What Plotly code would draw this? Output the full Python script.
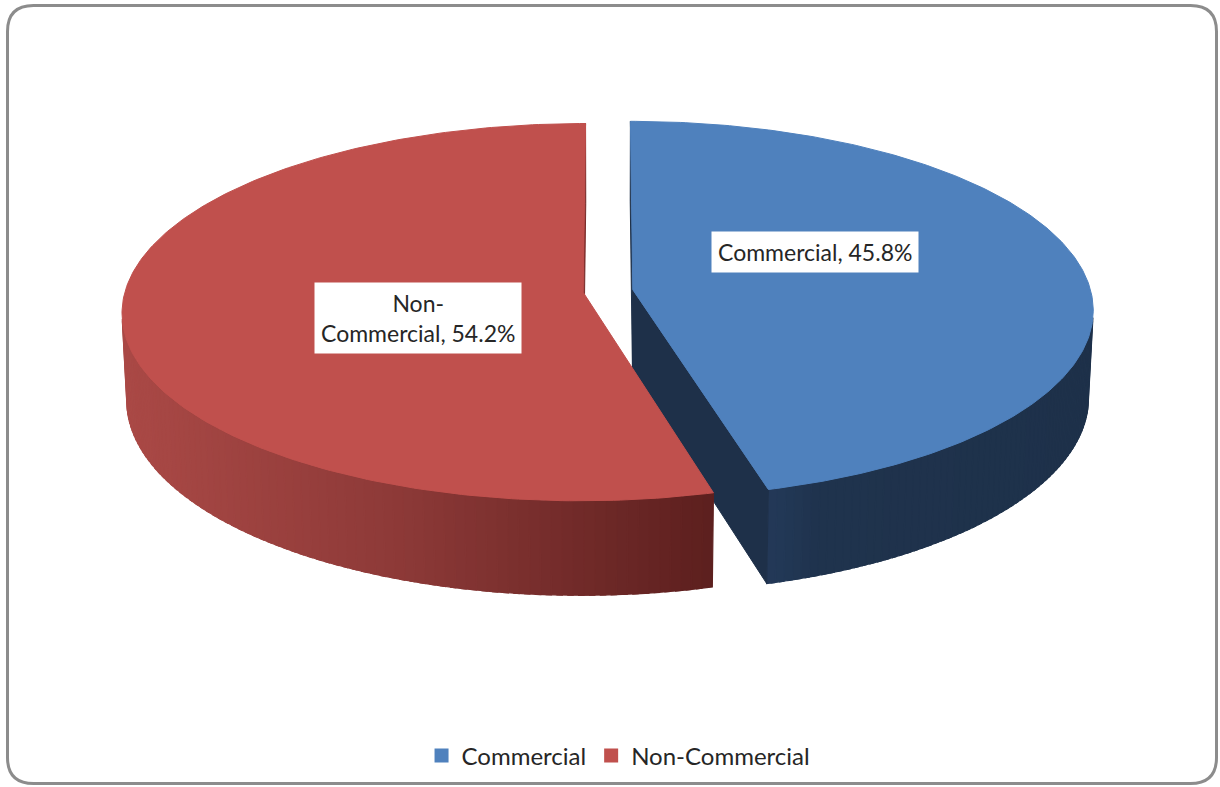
import numpy as np
import plotly.graph_objects as go

# ---- data ----
categories = ["Commercial", "Non-Commercial"]
shares = [45.8, 54.2]
top_colors = ["#4F81BD", "#C0504D"]
edge_colors = ["#1E3049", "#7A2C2A"]
# wall shading stops: (fraction across the visible wall, rgb)
wall_stops = [
    [(0.0, (35, 57, 88)), (0.15, (31, 51, 77)), (1.0, (30, 49, 74))],
    [(0.0, (170, 73, 70)), (0.45, (142, 58, 56)), (1.0, (92, 31, 30))],
]
label_pos = [(815, 252), (418, 318)]

# ---- canvas / projection setup ----
W, H = 1220, 787
CX, CY = 608, 291
SCALE = 458.0           # px per unit radius at the centre depth
DIST = 8.7              # camera distance (radius units)
ELEV = np.radians(24.0)
THICK = 0.209
EXPLODE = 0.0546
CAM = np.array([0.0, -DIST * np.cos(ELEV), DIST * np.sin(ELEV)])


def project(X, Y, Z):
    X, Y, Z = np.asarray(X, float), np.asarray(Y, float), np.asarray(Z, float)
    yc = Y * np.sin(ELEV) + Z * np.cos(ELEV)
    d = DIST + Y * np.cos(ELEV) - Z * np.sin(ELEV)
    k = SCALE * DIST / d
    return CX + k * X, CY - k * yc


def interp_color(stops, t):
    t = min(max(t, 0.0), 1.0)
    for (t0, c0), (t1, c1) in zip(stops[:-1], stops[1:]):
        if t <= t1:
            f = 0 if t1 == t0 else (t - t0) / (t1 - t0)
            c = [round(a + (b - a) * f) for a, b in zip(c0, c1)]
            return "rgb(%d,%d,%d)" % tuple(c)
    return "rgb(%d,%d,%d)" % stops[-1][1]


def poly(fig, xs, ys, color, lw=1.0):
    fig.add_trace(go.Scatter(
        x=list(xs) + [xs[0]], y=list(ys) + [ys[0]], mode="lines",
        fill="toself", fillcolor=color, line=dict(color=color, width=lw),
        hoverinfo="skip", showlegend=False))


fig = go.Figure()

total = sum(shares)
bounds = np.concatenate([[0.0], np.cumsum(shares) / total * 2 * np.pi])

slices = []
for i, cat in enumerate(categories):
    a0, a1 = bounds[i], bounds[i + 1]
    mid = 0.5 * (a0 + a1)
    off = (EXPLODE * np.sin(mid), EXPLODE * np.cos(mid))
    slices.append((a0, a1, off))

# side walls and cut faces
for i, (a0, a1, (ox, oy)) in enumerate(slices):
    th = np.linspace(a0, a1, 160)
    vis = []
    for t in th:
        p = np.array([ox + np.sin(t), oy + np.cos(t), -THICK / 2])
        n = np.array([np.sin(t), np.cos(t), 0.0])
        vis.append(np.dot(n, CAM - p) > 0)
    vis = np.array(vis)
    if vis.any():
        tv = th[vis]
        xt, _ = project(ox + np.sin(tv), oy + np.cos(tv), 0 * tv)
        xmin, xmax = xt.min(), xt.max()
        for j in range(len(tv) - 1):
            ta, tb = tv[j], min(tv[j + 1] + (tv[1] - tv[0]) * 0.5, tv[-1])
            seg = np.linspace(ta, tb, 3)
            xtop, ytop = project(ox + np.sin(seg), oy + np.cos(seg), 0 * seg)
            xbot, ybot = project(ox + np.sin(seg), oy + np.cos(seg), -THICK + 0 * seg)
            frac = (0.5 * (xtop[0] + xtop[-1]) - xmin) / max(xmax - xmin, 1)
            col = interp_color(wall_stops[i], frac)
            poly(fig, np.concatenate([xtop, xbot[::-1]]),
                 np.concatenate([ytop, ybot[::-1]]), col, 1.2)
    # radial cut faces
    for t, sgn in ((a0, -1), (a1, 1)):
        n = sgn * np.array([np.cos(t), -np.sin(t), 0.0])
        p = np.array([ox + 0.5 * np.sin(t), oy + 0.5 * np.cos(t), -THICK / 2])
        if np.dot(n, CAM - p) > 0.05:
            X = [ox, ox + np.sin(t), ox + np.sin(t), ox]
            Y = [oy, oy + np.cos(t), oy + np.cos(t), oy]
            Z = [0, 0, -THICK, -THICK]
            px, py = project(X, Y, Z)
            poly(fig, px, py, edge_colors[i], 1.0)

# top faces
for i, (a0, a1, (ox, oy)) in enumerate(slices):
    th = np.linspace(a0, a1, 240)
    X = np.concatenate([[ox], ox + np.sin(th)])
    Y = np.concatenate([[oy], oy + np.cos(th)])
    px, py = project(X, Y, 0 * X)
    poly(fig, px, py, top_colors[i], 1.0)

# legend entries
for cat, col in zip(categories, top_colors):
    fig.add_trace(go.Scatter(
        x=[None], y=[None], mode="markers", name=cat,
        marker=dict(symbol="square", size=14, color=col),
        hoverinfo="skip"))

# data labels
FONT = "Lato, 'Open Sans', sans-serif"
for cat, val, (lx, ly) in zip(categories, shares, label_pos):
    text = "%s, %.1f%%" % (cat.replace("-", "-<br>"), val)
    fig.add_annotation(
        x=lx, y=ly, xref="x", yref="y", text=text, showarrow=False,
        font=dict(family=FONT, size=23, color="#262626"),
        bgcolor="white", borderpad=6, align="center")

# rounded chart frame
x0, y0, x1, y1, r = 7.5, 5.5, 1216.5, 783.5, 26
frame = (f"M {x0 + r},{y0} L {x1 - r},{y0} Q {x1},{y0} {x1},{y0 + r} "
         f"L {x1},{y1 - r} Q {x1},{y1} {x1 - r},{y1} L {x0 + r},{y1} "
         f"Q {x0},{y1} {x0},{y1 - r} L {x0},{y0 + r} Q {x0},{y0} {x0 + r},{y0} Z")
fig.add_shape(type="path", path=frame, xref="x", yref="y",
              line=dict(color="#8c8c8c", width=3), layer="above")

fig.update_layout(
    width=W, height=H, autosize=False,
    margin=dict(l=0, r=0, t=0, b=0),
    paper_bgcolor="white", plot_bgcolor="white",
    xaxis=dict(range=[0, W], visible=False, fixedrange=True),
    yaxis=dict(range=[H, 0], visible=False, fixedrange=True),
    showlegend=True,
    legend=dict(orientation="h", x=0.507, xanchor="center",
                y=1 - 756 / H, yanchor="middle",
                font=dict(family=FONT, size=24, color="#262626"),
                bgcolor="rgba(0,0,0,0)", itemclick=False, itemdoubleclick=False),
    font=dict(family=FONT),
)

fig.write_html("out.html")
